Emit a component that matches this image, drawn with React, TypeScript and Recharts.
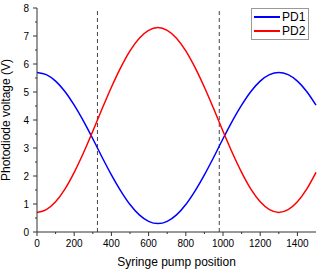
import { Legend, Line, LineChart, ReferenceLine, XAxis, YAxis } from "recharts";

const positions = [
  0, 50, 100, 150, 200, 250, 300, 350, 400, 450, 500, 550, 600, 650, 700, 750,
  800, 850, 900, 950, 1000, 1050, 1100, 1150, 1200, 1250, 1300, 1350, 1400, 1450, 1500,
];
const pd1 = [
  5.7, 5.62, 5.39, 5.02, 4.53, 3.96, 3.33, 2.67, 2.04, 1.47, 0.98, 0.61, 0.38, 0.3, 0.38, 0.61,
  0.98, 1.47, 2.04, 2.67, 3.33, 3.96, 4.53, 5.02, 5.39, 5.62, 5.7, 5.62, 5.39, 5.02, 4.53,
];
const pd2 = [
  0.7, 0.8, 1.08, 1.53, 2.13, 2.83, 3.6, 4.4, 5.17, 5.87, 6.47, 6.92, 7.2, 7.3, 7.2, 6.92,
  6.47, 5.87, 5.17, 4.4, 3.6, 2.83, 2.13, 1.53, 1.08, 0.8, 0.7, 0.8, 1.08, 1.53, 2.13,
];
const markers = [325, 980];

const xMajor = [0, 200, 400, 600, 800, 1000, 1200, 1400];
const xMinor = [100, 300, 500, 700, 900, 1100, 1300];
const yMajor = [0, 1, 2, 3, 4, 5, 6, 7, 8];
const yMinor = [0.5, 1.5, 2.5, 3.5, 4.5, 5.5, 6.5, 7.5];

const data = positions.map((p, i) => ({ pos: p, pd1: pd1[i], pd2: pd2[i] }));

const FONT = "'Liberation Sans', Arial, sans-serif";
const AXIS = "#333";

function XTick(props: any) {
  const { x, y, payload } = props;
  const major = xMajor.includes(payload.value);
  return (
    <g>
      <line x1={x} x2={x} y1={y} y2={y + (major ? 4 : 2)} stroke={AXIS} />
      {major && (
        <text x={x} y={y + 15} textAnchor="middle" fontSize={10} fill="#000" fontFamily={FONT}>
          {payload.value}
        </text>
      )}
    </g>
  );
}

function YTick(props: any) {
  const { x, y, payload } = props;
  const major = yMajor.includes(payload.value);
  return (
    <g>
      <line x1={x} x2={x - (major ? 4 : 2)} y1={y} y2={y} stroke={AXIS} />
      {major && (
        <text x={x - 8} y={y + 3.5} textAnchor="end" fontSize={10} fill="#000" fontFamily={FONT}>
          {payload.value}
        </text>
      )}
    </g>
  );
}

function LegendBox() {
  const rows = [
    { name: "PD1", color: "#0000ff" },
    { name: "PD2", color: "#ff0000" },
  ];
  return (
    <div
      style={{
        border: "1px solid #999",
        background: "#fff",
        padding: "1px 3px 1px 2px",
        fontFamily: FONT,
        fontSize: 12,
        lineHeight: "14px",
      }}
    >
      {rows.map((r) => (
        <div key={r.name} style={{ display: "flex", alignItems: "center" }}>
          <span style={{ display: "inline-block", width: 26, height: 1.5, background: r.color, marginRight: 2 }} />
          <span>{r.name}</span>
        </div>
      ))}
    </div>
  );
}

export default function App() {
  return (
    <div style={{ position: "absolute", left: 0, top: 0, width: 320, height: 270, background: "#fff" }}>
      <LineChart width={320} height={270} data={data} margin={{ top: 8, right: 4, bottom: 0, left: 0 }}>
        <XAxis
          dataKey="pos"
          type="number"
          domain={[0, 1500]}
          ticks={[...xMajor, ...xMinor].sort((a, b) => a - b)}
          interval={0}
          tickSize={0}
          tickMargin={0}
          tickLine={false}
          tick={<XTick />}
          height={38}
          stroke={AXIS}
          label={{
            value: "Syringe pump position",
            position: "insideBottom",
            offset: 4,
            fill: "#000",
            fontSize: 12,
            fontFamily: FONT,
          }}
        />
        <YAxis
          type="number"
          domain={[0, 8]}
          ticks={[...yMajor, ...yMinor].sort((a, b) => a - b)}
          interval={0}
          tickSize={0}
          tickMargin={0}
          tickLine={false}
          tick={<YTick />}
          width={37}
          stroke={AXIS}
          label={{
            value: "Photodiode voltage (V)",
            angle: -90,
            position: "insideLeft",
            offset: 6,
            style: { textAnchor: "middle" },
            fill: "#000",
            fontSize: 12,
            fontFamily: FONT,
          }}
        />
        {markers.map((m) => (
          <ReferenceLine key={m} x={m} stroke="#444" strokeDasharray="4 3" strokeWidth={1} />
        ))}
        <Line type="monotone" dataKey="pd1" name="PD1" stroke="#0000ff" strokeWidth={1.5} dot={false} isAnimationActive={false} />
        <Line type="monotone" dataKey="pd2" name="PD2" stroke="#ff0000" strokeWidth={1.5} dot={false} isAnimationActive={false} />
        <Legend
          layout="vertical"
          align="center"
          verticalAlign="middle"
          content={<LegendBox />}
          wrapperStyle={{ top: 8, left: 251, width: "auto", height: "auto" }}
        />
      </LineChart>
    </div>
  );
}
